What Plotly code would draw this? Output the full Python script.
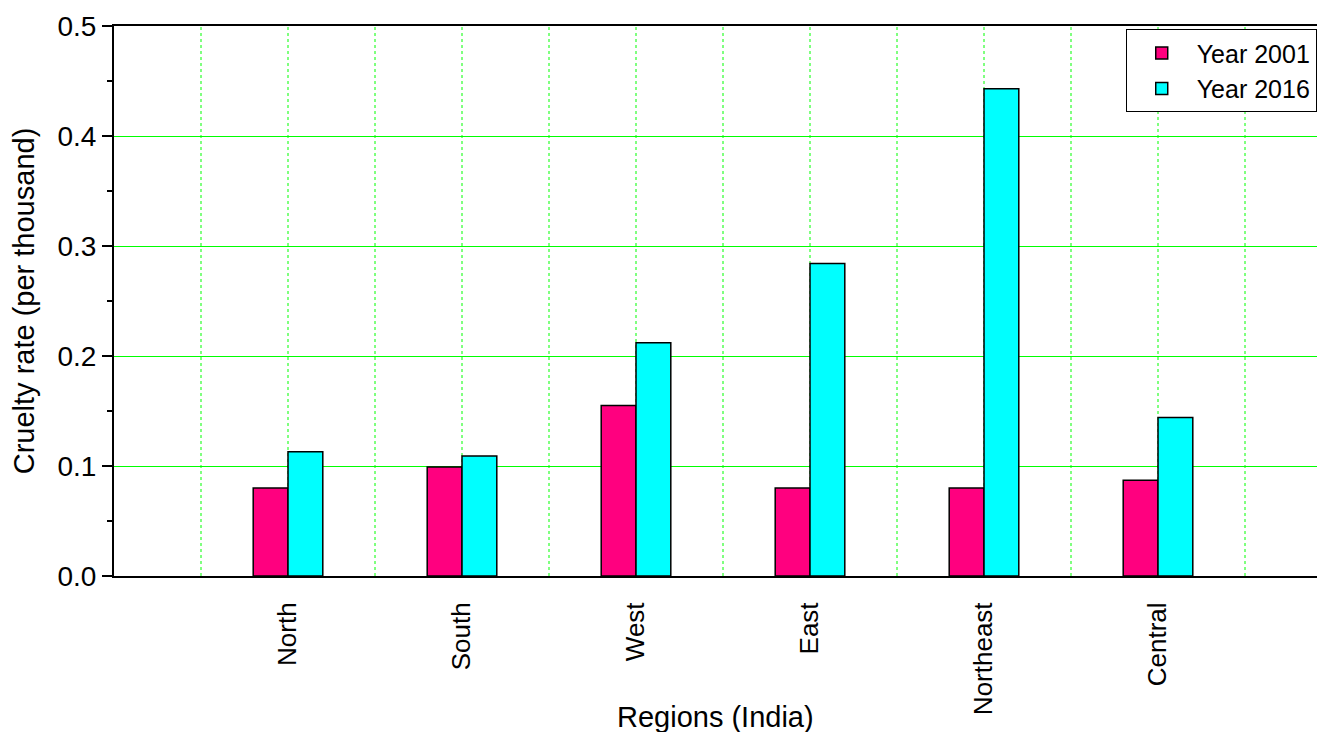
import plotly.graph_objects as go

regions = ["North", "South", "West", "East", "Northeast", "Central"]
positions = [1, 2, 3, 4, 5, 6]
year2001 = [0.080, 0.099, 0.155, 0.080, 0.080, 0.087]
year2016 = [0.113, 0.109, 0.212, 0.284, 0.443, 0.144]
vgrid = [0.5, 1, 1.5, 2, 2.5, 3, 3.5, 4, 4.5, 5, 5.5, 6, 6.5]

FONT = "Liberation Sans, Arial, sans-serif"

L, T, PW, PH = 114, 26, 1203, 550
XU = 174.0

fig = go.Figure()
fig.add_trace(go.Bar(x=positions, y=year2001, name="Year 2001",
                     marker=dict(color="#ff007f", line=dict(color="black", width=1.5))))
fig.add_trace(go.Bar(x=positions, y=year2016, name="Year 2016",
                     marker=dict(color="#00ffff", line=dict(color="black", width=1.5))))

for v in vgrid:
    fig.add_shape(type="line", x0=v, x1=v, y0=0, y1=1, xref="x", yref="paper",
                  line=dict(color="#00ff00", width=1, dash="dot"), layer="below")

fig.update_layout(
    width=1317, height=732,
    margin=dict(l=L, r=1317 - L - PW, t=T, b=732 - T - PH),
    paper_bgcolor="white", plot_bgcolor="white",
    barmode="group", bargap=0.6, bargroupgap=0,
    font=dict(family=FONT, size=26, color="black"),
    legend=dict(x=0.841, y=0.994, xanchor="left", yanchor="top",
                bordercolor="black", borderwidth=1, bgcolor="white",
                font=dict(size=25), tracegroupgap=0, itemwidth=60),
    showlegend=True,
    annotations=[dict(text="Regions (India)", x=0.5, y=-0.256, xref="paper", yref="paper",
                      xanchor="center", yanchor="middle", showarrow=False,
                      font=dict(size=29))],
)
fig.update_xaxes(
    range=[0, PW / XU],
    tickmode="array", tickvals=positions, ticktext=regions,
    tickangle=-90, tickfont=dict(size=26),
    ticks="", ticklabelstandoff=14,
    showline=True, linecolor="black", linewidth=2, mirror=True,
    showgrid=False, zeroline=False,
)
fig.update_yaxes(
    range=[0, 0.5], tickmode="linear", tick0=0, dtick=0.1, tickformat=".1f",
    ticks="outside", ticklen=10, tickwidth=2, tickcolor="black",
    tickfont=dict(size=28),
    minor=dict(dtick=0.05, tick0=0, ticks="outside", ticklen=5, tickwidth=2, tickcolor="black", showgrid=False),
    showline=True, linecolor="black", linewidth=2,
    showgrid=True, gridcolor="#00ff00", gridwidth=1,
    zeroline=False,
    title=dict(text="Cruelty rate (per thousand)", font=dict(size=29), standoff=14),
)

fig.write_html("out.html")
